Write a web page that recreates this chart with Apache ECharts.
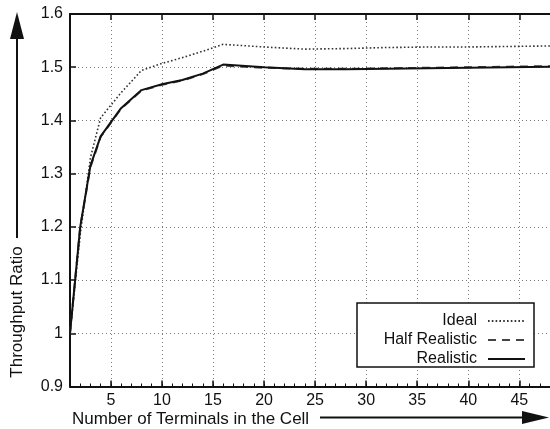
<!DOCTYPE html>
<html>
<head>
<meta charset="utf-8">
<script src="https://cdn.jsdelivr.net/npm/echarts@6/dist/echarts.min.js"></script>
<style>
html,body{margin:0;padding:0;background:#fff;}
#chart{width:550px;height:429px;}
</style>
</head>
<body>
<div id="chart"></div>
<script>
var xValues = [1, 2, 3, 4, 6, 8, 10, 12, 14, 16, 20, 24, 28, 32, 36, 40, 44, 48];
var idealValues = [1.0, 1.185, 1.33, 1.405, 1.452, 1.494, 1.507, 1.518, 1.53, 1.543, 1.538, 1.534, 1.535, 1.537, 1.538, 1.538, 1.539, 1.540];
var halfValues = [1.0, 1.2, 1.312, 1.369, 1.422, 1.456, 1.467, 1.475, 1.487, 1.503, 1.499, 1.497, 1.497, 1.498, 1.499, 1.500, 1.501, 1.502];
var realValues = [1.0, 1.2, 1.315, 1.370, 1.423, 1.457, 1.468, 1.476, 1.488, 1.505, 1.500, 1.496, 1.496, 1.497, 1.498, 1.499, 1.500, 1.501];
var xTicks = [5, 10, 15, 20, 25, 30, 35, 40, 45];
var seriesNames = ['Ideal', 'Half Realistic', 'Realistic'];
var xTitle = 'Number of Terminals in the Cell';
var yTitle = 'Throughput Ratio';

function pairs(vals) {
  return xValues.map(function (x, i) { return [x, vals[i]]; });
}

var FONT = 'Liberation Sans';
var chart = echarts.init(document.getElementById('chart'), null, {renderer: 'canvas'});
var gridLine = {show: true, lineStyle: {color: '#7a7a7a', width: 1, type: [1, 3]}};

chart.setOption({
  backgroundColor: '#fff',
  animation: false,
  grid: {left: 70, top: 14, right: -3, bottom: 42.5, containLabel: false},
  xAxis: [
    {
      type: 'value', min: 1, max: 48, interval: 1, position: 'bottom',
      axisLine: {show: true, lineStyle: {color: '#111', width: 2}},
      axisTick: {show: true, inside: true, length: 6, customValues: xTicks, lineStyle: {color: '#111', width: 1.5}},
      axisLabel: {show: true, customValues: xTicks, margin: 6, fontFamily: FONT, fontSize: 16, color: '#111'},
      splitLine: gridLine,
      minorTick: {show: false}
    },
    {
      type: 'value', min: 1, max: 48, interval: 1, position: 'bottom',
      axisLine: {show: false},
      axisTick: {show: true, inside: true, length: 3, lineStyle: {color: '#111', width: 1}},
      axisLabel: {show: false},
      splitLine: {show: false}
    },
    {
      type: 'value', min: 1, max: 48, interval: 1, position: 'top',
      axisLine: {show: true, lineStyle: {color: '#111', width: 2}},
      axisTick: {show: true, inside: true, length: 6, customValues: xTicks, lineStyle: {color: '#111', width: 1.5}},
      axisLabel: {show: false},
      splitLine: {show: false}
    }
  ],
  yAxis: [
    {
      type: 'value', min: 0.9, max: 1.6, interval: 0.1,
      axisLine: {show: true, lineStyle: {color: '#111', width: 2}},
      axisTick: {show: true, inside: true, length: 6, lineStyle: {color: '#111', width: 1.5}},
      axisLabel: {show: true, margin: 7, fontFamily: FONT, fontSize: 16, color: '#111'},
      splitLine: gridLine
    }
  ],
  legend: {
    orient: 'vertical', align: 'right',
    left: 357, top: 303,
    padding: [10, 8, 0, 10],
    itemGap: 3, itemWidth: 37, itemHeight: 14,
    itemStyle: {opacity: 0},
    backgroundColor: '#fff', borderColor: '#111', borderWidth: 1.5, borderRadius: 0,
    textStyle: {fontFamily: FONT, fontSize: 16, color: '#111', width: 110, lineHeight: 14, overflow: 'none', padding: [0, 6, 0, 0]},
    data: seriesNames
  },
  series: [
    {
      name: seriesNames[0], type: 'line', xAxisIndex: 0, yAxisIndex: 0,
      data: pairs(idealValues), symbol: 'none', z: 3,
      itemStyle: {color: '#333'},
      lineStyle: {color: '#333', width: 1.6, type: [1.6, 2.2]}
    },
    {
      name: seriesNames[1], type: 'line', xAxisIndex: 0, yAxisIndex: 0,
      data: pairs(halfValues), symbol: 'none', z: 3,
      itemStyle: {color: '#444'},
      lineStyle: {color: '#444', width: 2, type: [8, 6]}
    },
    {
      name: seriesNames[2], type: 'line', xAxisIndex: 0, yAxisIndex: 0,
      data: pairs(realValues), symbol: 'none', z: 4,
      itemStyle: {color: '#111'},
      lineStyle: {color: '#111', width: 2}
    }
  ],
  graphic: [
    {type: 'line', shape: {x1: 17, y1: 238, x2: 17, y2: 36}, style: {stroke: '#111', lineWidth: 2}},
    {type: 'polygon', shape: {points: [[17, 12], [10, 39], [24, 39]]}, style: {fill: '#111'}},
    {type: 'text', x: 17, y: 312, rotation: Math.PI / 2,
      style: {text: yTitle, fontFamily: FONT, fontSize: 17, fill: '#111', align: 'center', verticalAlign: 'middle'}},
    {type: 'text', x: 72, y: 419,
      style: {text: xTitle, fontFamily: FONT, fontSize: 17, fill: '#111', align: 'left', verticalAlign: 'middle'}},
    {type: 'line', shape: {x1: 320, y1: 417.5, x2: 525, y2: 417.5}, style: {stroke: '#111', lineWidth: 2}},
    {type: 'polygon', shape: {points: [[549, 417.5], [522, 411], [522, 424]]}, style: {fill: '#111'}}
  ]
});
</script>
</body>
</html>
